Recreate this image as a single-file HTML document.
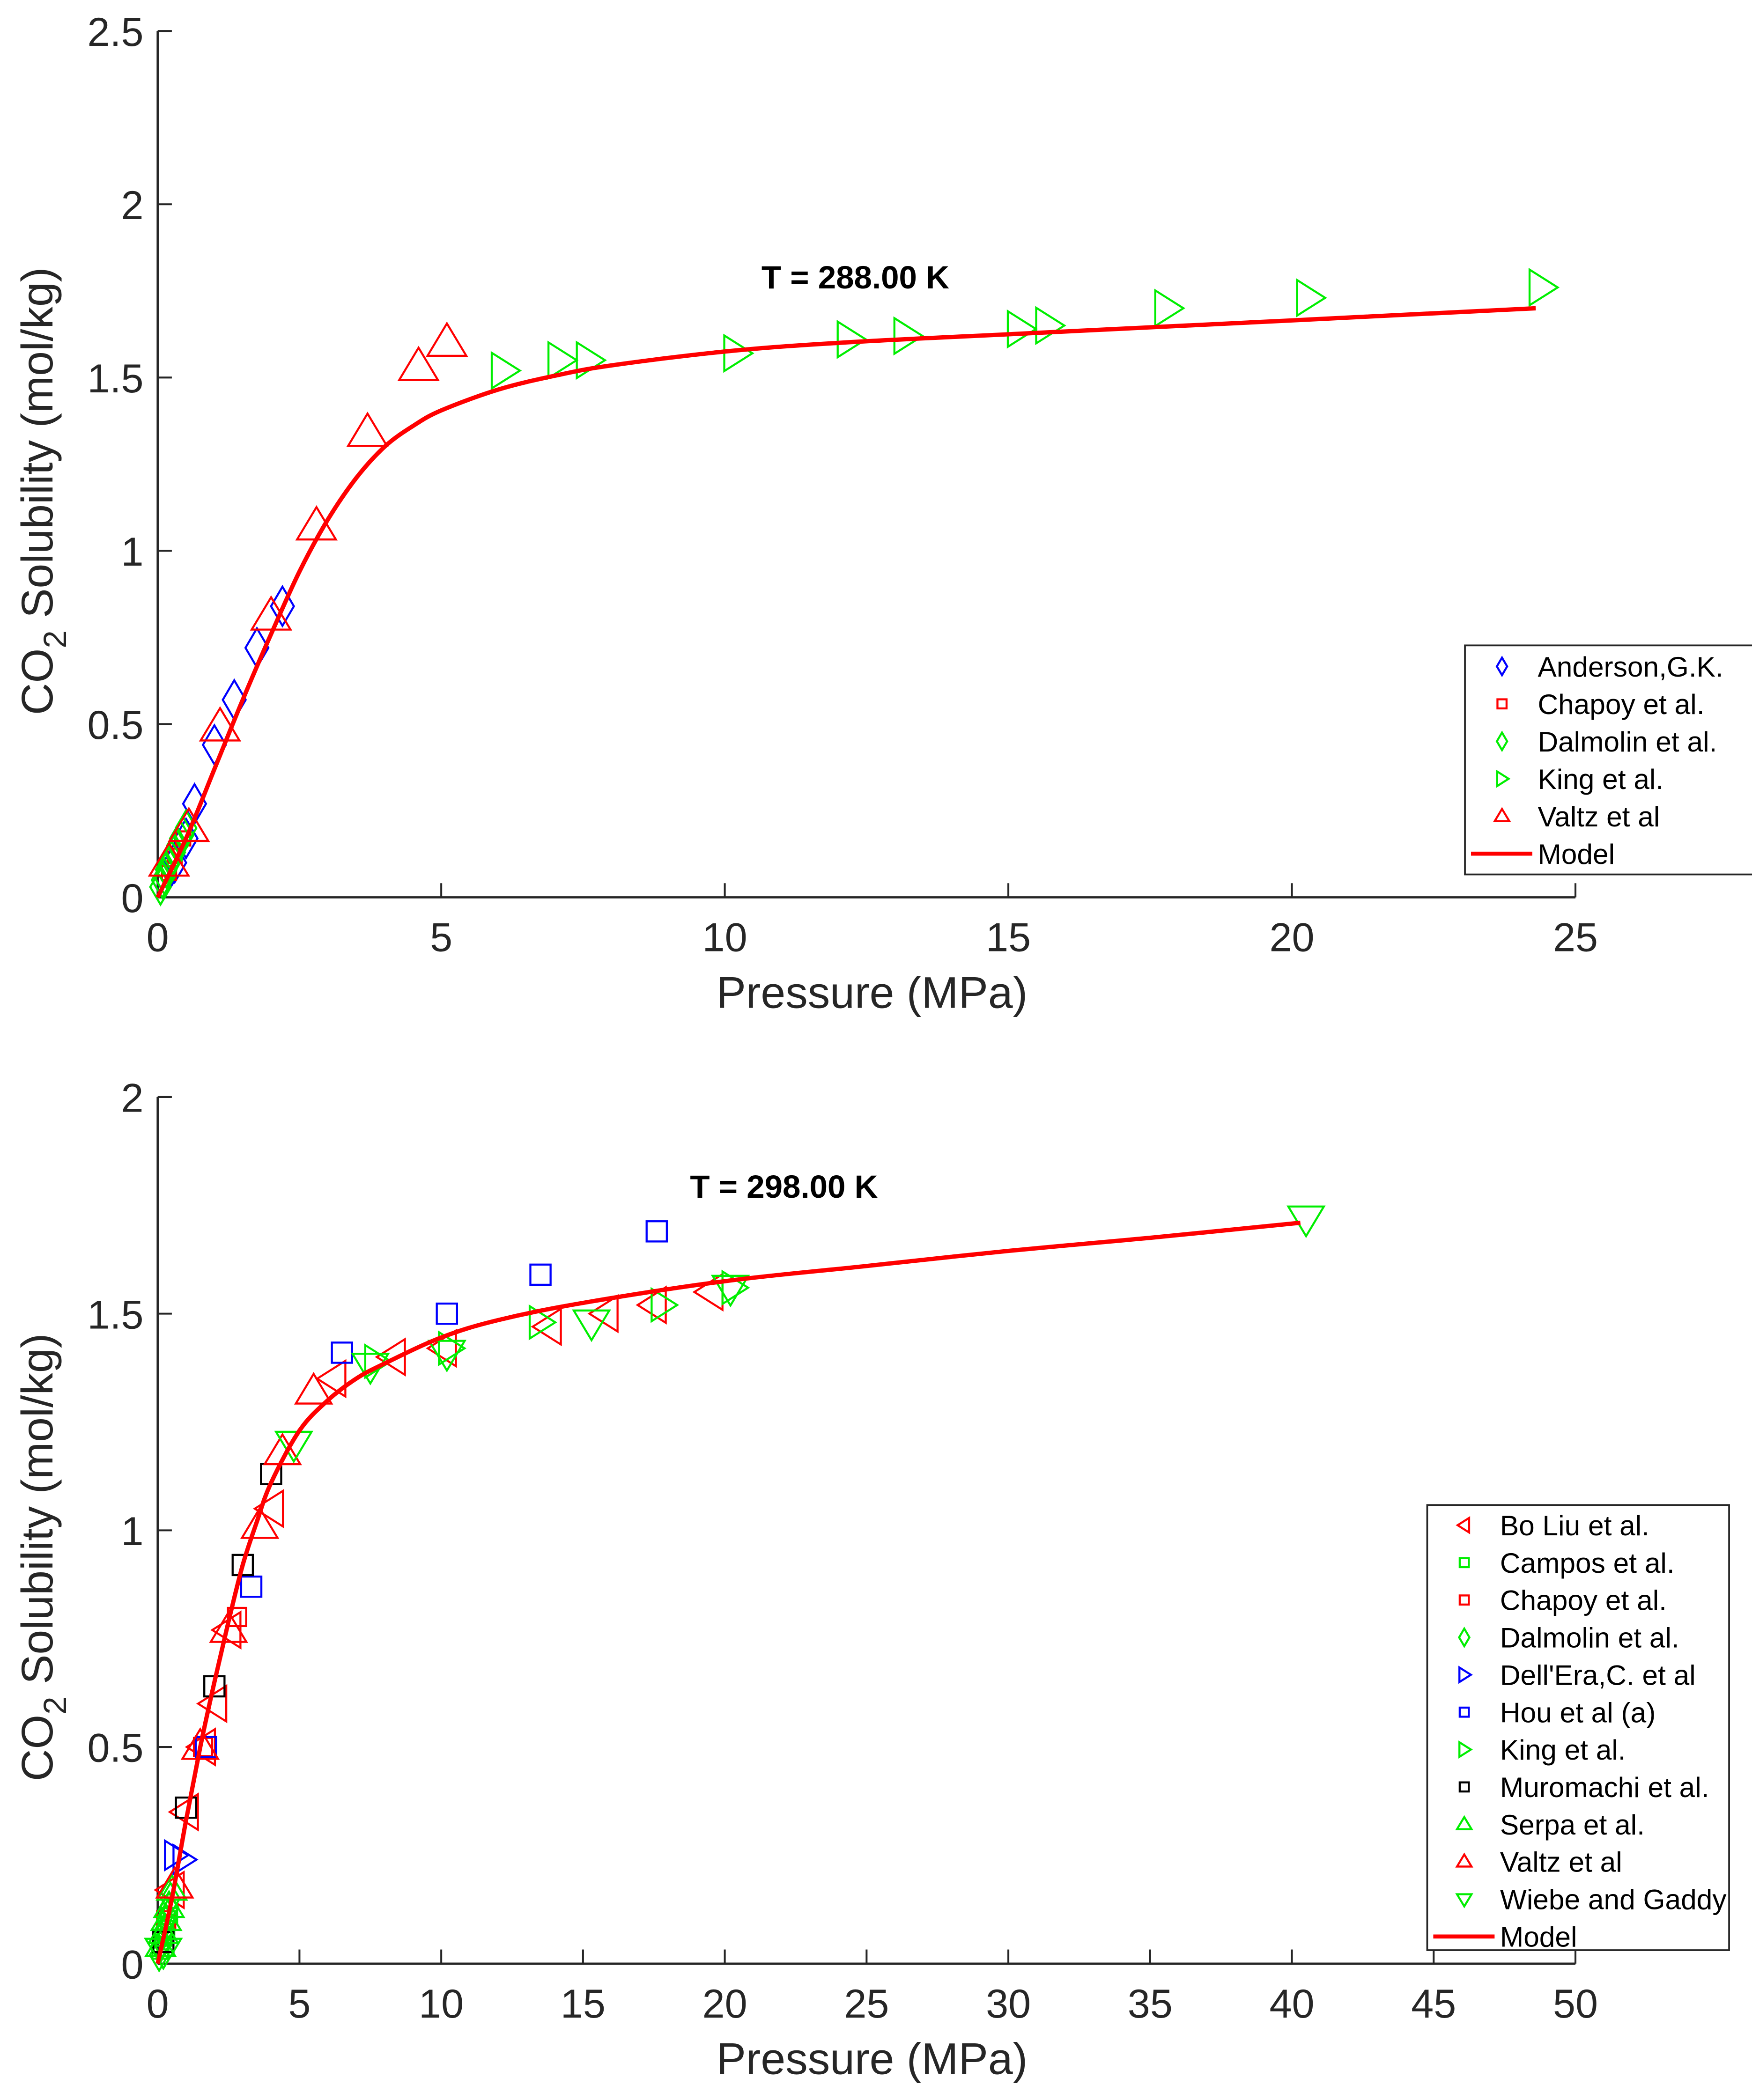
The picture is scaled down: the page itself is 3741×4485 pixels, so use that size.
<!DOCTYPE html>
<html><head><meta charset="utf-8"><style>
html,body{margin:0;padding:0;background:#fff;}
svg{display:block;}
text{font-family:"Liberation Sans",Arial,sans-serif;}
</style></head><body>
<svg id="fig" width="3741" height="4485" viewBox="0 0 1300 1558.6" preserveAspectRatio="none" xmlns="http://www.w3.org/2000/svg">
<rect width="1300" height="1558.6" fill="#fff"/>
</svg>
<script>
// ---------- Top chart data (T = 288 K) ----------
const topAndersonX=[0.1,0.3,0.5,0.65,1.0,1.35,1.75,2.2];
const topAndersonY=[0.05,0.1,0.17,0.27,0.44,0.57,0.72,0.84];
const topChapoyX=[0.2,0.3,0.45];
const topChapoyY=[0.07,0.12,0.17];
const topDalmolinX=[0.05,0.08,0.12,0.15,0.2,0.25,0.3,0.35,0.4,0.45,0.5];
const topDalmolinY=[0.03,0.05,0.06,0.08,0.1,0.11,0.13,0.15,0.17,0.18,0.2];
const topKingX=[6.1,7.1,7.6,10.2,12.2,13.2,15.2,15.7,17.8,20.3,24.4];
const topKingY=[1.52,1.55,1.55,1.57,1.61,1.62,1.64,1.65,1.70,1.73,1.76];
const topValtzX=[0.2,0.55,1.1,2.0,2.8,3.7,4.6,5.1];
const topValtzY=[0.1,0.2,0.49,0.81,1.07,1.34,1.53,1.60];
const topModelX=[0,0.5,1,1.5,2,2.5,3,3.5,4,4.5,5,6,7,8,10,12,15,20,24.3];
const topModelY=[0,0.17,0.37,0.57,0.76,0.94,1.09,1.21,1.30,1.36,1.405,1.465,1.505,1.535,1.575,1.60,1.625,1.665,1.70];
const topXTicks=[0,5,10,15,20,25];
const topYTicks=[0,0.5,1,1.5,2,2.5];
// ---------- Bottom chart data (T = 298 K) ----------
const botBoLiuX=[0.5,1.0,1.6,2.0,2.5,4.0,6.2,8.3,10.1,13.8,15.8,17.5,19.5];
const botBoLiuY=[0.17,0.35,0.5,0.6,0.77,1.05,1.35,1.40,1.42,1.47,1.50,1.52,1.55];
const botCamposX=[0.1,0.2,0.3,0.4];
const botCamposY=[0.03,0.06,0.08,0.11];
const botChapoyX=[0.3,1.6,2.8];
const botChapoyY=[0.1,0.5,0.8];
const botDalmolinX=[0.05,0.1,0.15,0.2,0.25,0.3,0.35,0.4,0.45];
const botDalmolinY=[0.02,0.04,0.05,0.07,0.08,0.1,0.11,0.13,0.15];
const botDellEraX=[0.6,0.9];
const botDellEraY=[0.25,0.24];
const botHouX=[1.7,3.3,6.5,10.2,13.5,17.6];
const botHouY=[0.5,0.87,1.41,1.5,1.59,1.69];
const botKingX=[7.7,10.3,13.5,17.8,20.3];
const botKingY=[1.39,1.42,1.48,1.52,1.56];
const botMuromachiX=[0.2,1.0,2.0,3.0,4.0];
const botMuromachiY=[0.05,0.36,0.64,0.92,1.13];
const botSerpaX=[0.1,0.2,0.3,0.4,0.5];
const botSerpaY=[0.04,0.07,0.1,0.13,0.17];
const botValtzX=[0.6,1.5,2.5,3.6,4.4,5.5];
const botValtzY=[0.18,0.5,0.77,1.01,1.18,1.32];
const botWiebeX=[0.2,4.8,7.5,10.2,15.3,20.2,40.5];
const botWiebeY=[0.03,1.2,1.38,1.41,1.48,1.56,1.72];
const botModelX=[0,0.5,1,1.5,2,2.5,3,3.5,4,5,6,7,8,10,12,15,20,25,30,35,40.3];
const botModelY=[0,0.15,0.33,0.5,0.65,0.79,0.92,1.02,1.11,1.23,1.30,1.35,1.385,1.445,1.485,1.525,1.575,1.61,1.645,1.675,1.71];
const botXTicks=[0,5,10,15,20,25,30,35,40,45,50];
const botYTicks=[0,0.5,1,1.5,2];

const NS="http://www.w3.org/2000/svg";
const svg=document.getElementById('fig');
function mk(tag,attrs,parent){const e=document.createElementNS(NS,tag);for(const k in attrs)e.setAttribute(k,attrs[k]);(parent||svg).appendChild(e);return e;}

function marker(g,type,cx,cy,s,color){
  let e;
  if(type==='diamond'){e=mk('polygon',{points:`${cx},${cy-s*1.45} ${cx+s*0.85},${cy} ${cx},${cy+s*1.45} ${cx-s*0.85},${cy}`},g);}
  else if(type==='square'){e=mk('rect',{x:cx-s*0.75,y:cy-s*0.75,width:s*1.5,height:s*1.5},g);}
  else if(type==='right'){e=mk('polygon',{points:`${cx-s*0.8},${cy-s*1.2} ${cx+s*1.1},${cy} ${cx-s*0.8},${cy+s*1.2}`},g);}
  else if(type==='left'){e=mk('polygon',{points:`${cx+s*0.8},${cy-s*1.2} ${cx-s*1.1},${cy} ${cx+s*0.8},${cy+s*1.2}`},g);}
  else if(type==='up'){e=mk('polygon',{points:`${cx},${cy-s*1.2} ${cx+s*1.2},${cy+s*0.8} ${cx-s*1.2},${cy+s*0.8}`},g);}
  else if(type==='down'){e=mk('polygon',{points:`${cx},${cy+s*1.2} ${cx+s*1.2},${cy-s*0.8} ${cx-s*1.2},${cy-s*0.8}`},g);}
  e.setAttribute('fill','none');e.setAttribute('stroke',color);e.setAttribute('stroke-width','1.5');
  return e;
}

function smoothPath(P){
  let d=`M${P[0][0].toFixed(1)},${P[0][1].toFixed(1)}`;
  for(let i=0;i<P.length-1;i++){
    const p0=P[Math.max(0,i-1)],p1=P[i],p2=P[i+1],p3=P[Math.min(P.length-1,i+2)];
    const c1x=p1[0]+(p2[0]-p0[0])/6,c1y=p1[1]+(p2[1]-p0[1])/6;
    const c2x=p2[0]-(p3[0]-p1[0])/6,c2y=p2[1]-(p3[1]-p1[1])/6;
    d+=` C${c1x.toFixed(1)},${c1y.toFixed(1)} ${c2x.toFixed(1)},${c2y.toFixed(1)} ${p2[0].toFixed(1)},${p2[1].toFixed(1)}`;
  }
  return d;
}

function chart(cfg){
  const g=mk('g',{});
  
  
  const sx=v=>cfg.x0+(v-cfg.xmin)/(cfg.xmax-cfg.xmin)*(cfg.x1-cfg.x0);
  const sy=v=>cfg.y0-(v-cfg.ymin)/(cfg.ymax-cfg.ymin)*(cfg.y0-cfg.y1);
  const ax='#262626';
  const xa=mk('line',{x1:cfg.x0,y1:cfg.y0,x2:cfg.x1,y2:cfg.y0,stroke:ax,'stroke-width':1.6},g);
  
  
  const ya=mk('line',{x1:cfg.x0,y1:cfg.y0,x2:cfg.x0,y2:cfg.y1,stroke:ax,'stroke-width':1.6},g);
  
  
  cfg.xticks.forEach(t=>{
    const x=sx(t);
    mk('line',{x1:x,y1:cfg.y0,x2:x,y2:cfg.y0-10.5,stroke:ax,'stroke-width':1.4},g);
    const tx=mk('text',{x:x,y:cfg.y0+40,'text-anchor':'middle','font-size':30,fill:ax},g);
    
    
    tx.textContent=String(t);
  });
  cfg.yticks.forEach(t=>{
    const y=sy(t);
    mk('line',{x1:cfg.x0,y1:y,x2:cfg.x0+10.5,y2:y,stroke:ax,'stroke-width':1.4},g);
    const tx=mk('text',{x:cfg.x0-10.5,y:y+11,'text-anchor':'end','font-size':30,fill:ax},g);
    
    
    tx.textContent=String(t);
  });
  const xt=mk('text',{x:(cfg.x0+cfg.x1)/2+4,y:cfg.y0+82,'text-anchor':'middle','font-size':33,fill:ax},g);
  
  
  xt.textContent='Pressure (MPa)';
  const yt=mk('text',{x:0,y:0,'text-anchor':'middle','font-size':33,fill:ax,transform:`translate(39,${(cfg.y0+cfg.y1)/2+20}) rotate(-90)`},g);
  
  
  yt.innerHTML='CO<tspan dy="10" font-size="24">2</tspan><tspan dy="-10"> Solubility (mol/kg)</tspan>';
  const tt=mk('text',{x:cfg.titleX,y:cfg.titleY,'font-size':24,'font-weight':'bold',fill:'#000'},g);
  
  
  tt.textContent=cfg.title;
  cfg.series.forEach(s=>{
    const sg=mk('g',{},g);
    
    
    s.xs.forEach((v,i)=>{
      const m=marker(sg,s.type,sx(v),sy(s.ys[i]),s.size,s.color);
      
      
    });
  });
  const P=cfg.modelX.map((v,i)=>[sx(v),sy(cfg.modelY[i])]);
  const ml=mk('path',{d:smoothPath(P),fill:'none',stroke:'#ff0000','stroke-width':3.2,'stroke-linejoin':'round'},g);
  
  
  const L=cfg.legend;
  const lg=mk('g',{},g);
  
  
  const n=cfg.series.length+1;
  mk('rect',{x:L.x,y:L.y,width:L.w,height:L.h,fill:'#fff',stroke:ax,'stroke-width':1.3},lg);
  cfg.series.forEach((s,i)=>{
    const cy=L.y+L.first+i*L.step;
    marker(lg,s.type,L.x+27.5,cy,4.5,s.color);
    const t=mk('text',{x:L.x+54,y:cy+7.5,'font-size':21,fill:'#000'},lg);
    
    
    t.textContent=s.label;
  });
  const cy=L.y+L.first+(n-1)*L.step;
  mk('line',{x1:L.x+4.5,y1:cy,x2:L.x+50,y2:cy,stroke:'#ff0000','stroke-width':3},lg);
  const t=mk('text',{x:L.x+54,y:cy+7.5,'font-size':21,fill:'#000'},lg);
  
  
  t.textContent='Model';
}

chart({name:'chart-288K',x0:117,x1:1169,y0:666,y1:23,xmin:0,xmax:25,ymin:0,ymax:2.5,
  xticks:topXTicks,yticks:topYTicks,title:'T = 288.00 K',titleX:565,titleY:214,
  modelX:topModelX,modelY:topModelY,
  legend:{x:1087,y:479,w:224,h:170,first:15.6,step:27.8},
  series:[
    {key:'anderson',label:'Anderson,G.K.',type:'diamond',color:'#0000ff',size:10,xs:topAndersonX,ys:topAndersonY},
    {key:'chapoy',label:'Chapoy et al.',type:'square',color:'#ff0000',size:7,xs:topChapoyX,ys:topChapoyY},
    {key:'dalmolin',label:'Dalmolin et al.',type:'diamond',color:'#00ee00',size:9,xs:topDalmolinX,ys:topDalmolinY},
    {key:'king',label:'King et al.',type:'right',color:'#00ee00',size:11,xs:topKingX,ys:topKingY},
    {key:'valtz',label:'Valtz et al',type:'up',color:'#ff0000',size:12,xs:topValtzX,ys:topValtzY}
  ]});

chart({name:'chart-298K',x0:117,x1:1169,y0:1457.4,y1:814.2,xmin:0,xmax:50,ymin:0,ymax:2,
  xticks:botXTicks,yticks:botYTicks,title:'T = 298.00 K',titleX:512,titleY:889,
  modelX:botModelX,modelY:botModelY,
  legend:{x:1059,y:1117,w:224,h:330.4,first:15,step:27.75},
  series:[
    {key:'boliu',label:'Bo Liu et al.',type:'left',color:'#ff0000',size:11,xs:botBoLiuX,ys:botBoLiuY},
    {key:'campos',label:'Campos et al.',type:'square',color:'#00ee00',size:8,xs:botCamposX,ys:botCamposY},
    {key:'chapoy',label:'Chapoy et al.',type:'square',color:'#ff0000',size:9,xs:botChapoyX,ys:botChapoyY},
    {key:'dalmolin',label:'Dalmolin et al.',type:'diamond',color:'#00ee00',size:8,xs:botDalmolinX,ys:botDalmolinY},
    {key:'dellera',label:"Dell'Era,C. et al",type:'right',color:'#0000ff',size:9,xs:botDellEraX,ys:botDellEraY},
    {key:'hou',label:'Hou et al (a)',type:'square',color:'#0000ff',size:10,xs:botHouX,ys:botHouY},
    {key:'king',label:'King et al.',type:'right',color:'#00ee00',size:10,xs:botKingX,ys:botKingY},
    {key:'muromachi',label:'Muromachi et al.',type:'square',color:'#000000',size:10,xs:botMuromachiX,ys:botMuromachiY},
    {key:'serpa',label:'Serpa et al.',type:'up',color:'#00ee00',size:9,xs:botSerpaX,ys:botSerpaY},
    {key:'valtz',label:'Valtz et al',type:'up',color:'#ff0000',size:11,xs:botValtzX,ys:botValtzY},
    {key:'wiebe',label:'Wiebe and Gaddy',type:'down',color:'#00ee00',size:11,xs:botWiebeX,ys:botWiebeY}
  ]});
</script>
</body></html>
